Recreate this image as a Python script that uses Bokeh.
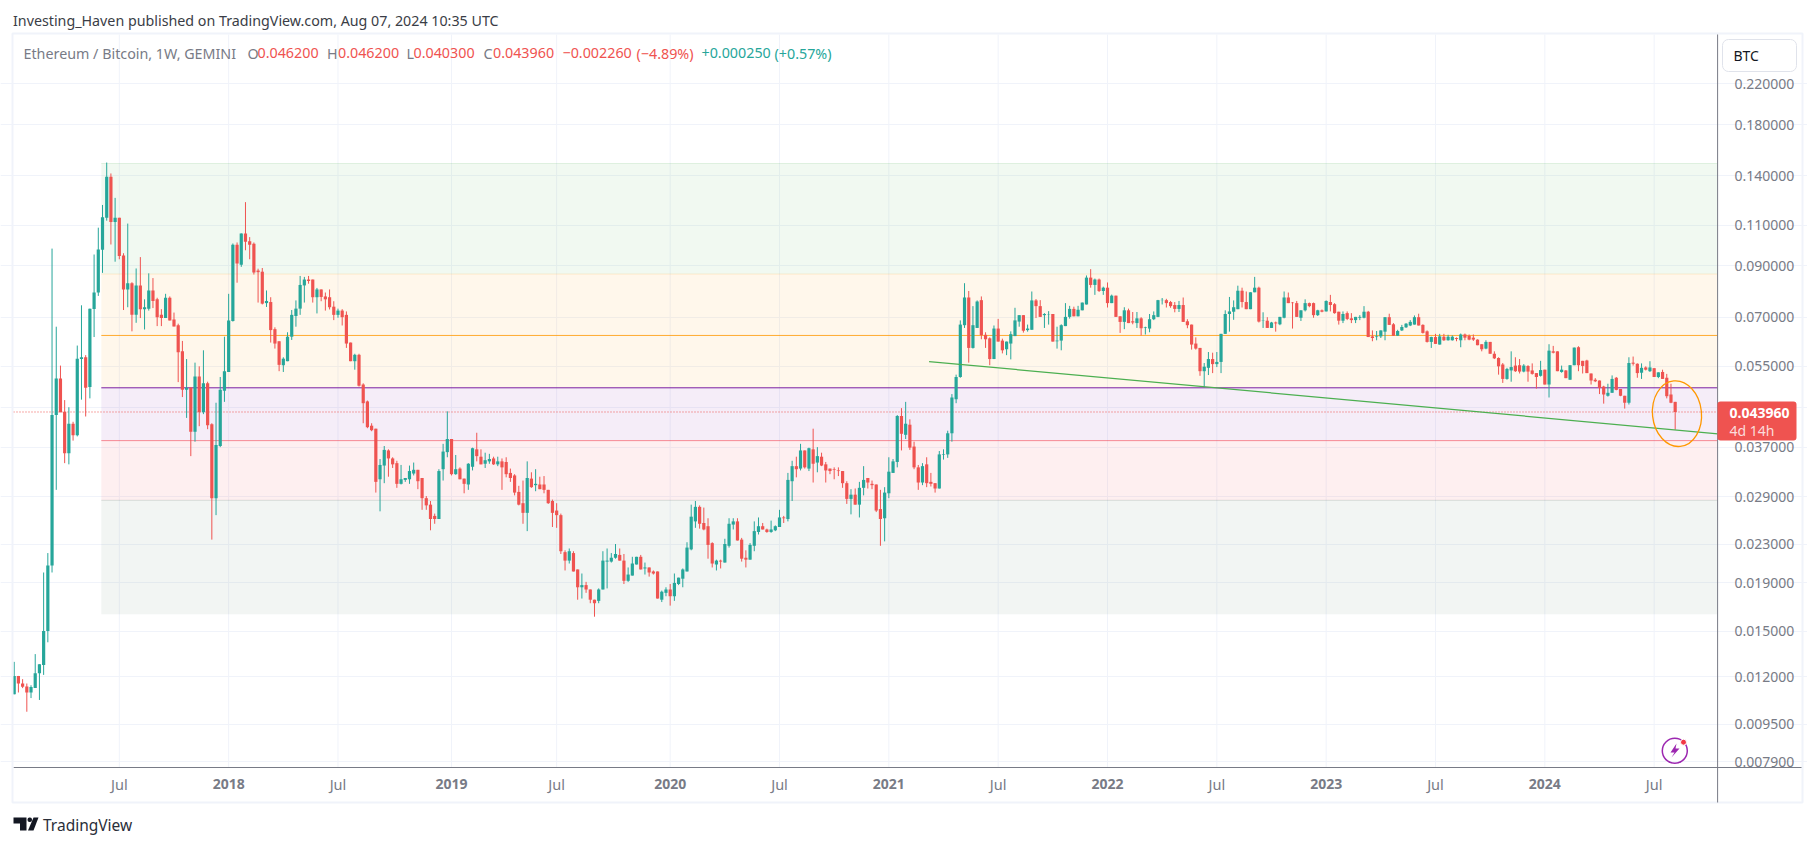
import numpy as np
import pandas as pd
from bokeh.plotting import figure
from bokeh.models import (Range1d, FixedTicker, CustomJSTickFormatter, Label, BoxAnnotation,
                          PolyAnnotation, ColumnDataSource, DatetimeAxis)
from bokeh.embed import file_html
from bokeh.resources import INLINE

# Weekly ETH/BTC candles, prices in units of 0.0001 BTC
opens = [110,120.4,116,114.3,111,113.5,122,127,150,207,
433,518,440,359,415,392,570,575,497,729,
790,974,1140,1394,1116,1140,947,802,827,708,
818,728,730,798,764,708,697,770,692,673,
592,490,495,399,523,439,506,414,288,372,
488,535,687,999,905,1056,1016,1004,880,875,
750,754,660,622,553,564,636,704,730,818,
842,842,772,802,775,772,737,708,723,708,
618,564,582,503,463,411,405,316,338,364,
350,342,309,315,316,325,331,318,288,279,
264,260,332,361,385,324,333,317,308,336,
366,353,341,345,350,340,345,344,326,322,
297,281,268,317,307,308,308,300,284,271,
265,221,212,220,203,186,188,184,175,174,
184,211,211,215,218,212,192,197,208,216,
204,205,201,201,175,181,184,178,189,194,
201,224,257,276,255,251,231,208,212,210,
228,253,257,235,215,213,228,244,251,247,
244,246,250,262,260,313,337,333,364,333,
366,343,353,340,333,332,330,329,310,287,
293,279,303,318,309,308,273,261,295,326,
344,431,393,413,371,335,311,340,312,310,
302,356,357,396,468,522,673,771,602,664,
761,642,631,570,662,624,598,615,638,685,
707,657,658,760,739,707,710,711,622,624,
670,701,729,703,724,745,850,820,842,796,
809,750,778,703,684,724,686,680,696,664,
662,693,701,761,761,754,743,729,743,686,
675,615,602,537,546,570,556,562,645,711,
719,728,797,754,728,791,809,687,688,664,
682,676,698,771,752,750,698,724,750,750,
707,724,720,754,746,719,688,714,696,690,
698,698,719,637,635,637,652,700,676,639,
656,666,672,675,700,674,653,620,635,612,
636,625,625,632,625,643,639,633,627,613,
600,620,585,573,555,517,539,552,553,536,
551,539,532,525,541,503,592,592,535,539,
515,553,604,565,566,531,515,513,498,476,
483,520,492,476,460,560,557,533,547,537,
545,522,535,520,479,462]
highs = [129,120.4,118.5,116,115,134,127.5,200,220,980,
668,552,466,450,419,609,742,581,730,952,
1086,1214,1495,1417,1257,1140,958,1108,831,889,
940,764,868,848,770,728,785,775,716,678,
623,570,497,560,550,595,510,416,460,522,
636,785,1005,1010,1056,1231,1037,1010,888,891,
798,772,666,622,575,650,725,760,857,853,
857,842,808,802,790,802,757,730,728,720,
618,585,585,506,465,416,405,349,372,366,
352,346,339,318,338,343,331,318,291,284,
267,332,376,441,385,356,335,317,342,369,
397,366,360,358,353,353,350,352,333,324,
306,314,345,327,332,320,321,300,286,281,
267,223,225,222,203,199,191,184,175,185,
222,225,220,230,225,219,205,216,216,218,
210,205,202,201,183,186,189,199,195,204,
232,279,284,278,275,261,232,213,213,236,
261,261,261,237,223,231,257,262,255,248,
258,252,272,264,326,346,353,376,364,369,
405,370,360,344,333,335,335,329,313,301,
302,312,337,318,314,308,300,304,352,349,
433,448,462,424,380,339,342,352,326,310,
363,366,401,480,528,689,827,796,739,760,
775,650,634,672,694,630,621,653,733,707,
707,675,794,765,761,714,721,711,668,676,
750,740,737,740,752,859,886,846,846,813,
830,782,778,703,735,730,718,718,700,668,
711,720,762,769,766,758,754,758,771,693,
675,634,602,559,590,588,590,645,724,773,
760,817,809,794,791,853,813,717,700,684,
685,701,794,790,754,758,724,764,752,752,
726,727,760,781,750,719,720,720,714,701,
707,739,722,656,654,656,700,712,680,658,
674,680,690,706,712,676,656,636,645,645,
645,642,640,634,646,646,643,643,628,613,
625,620,592,575,559,546,592,575,570,556,
553,558,532,565,541,613,608,592,552,540,
553,603,607,565,568,531,519,513,500,505,
526,522,492,476,575,577,558,558,550,564,
545,534,541,530,505,462]
lows = [110,111,113.4,101,108,113.5,107,121,142,200,
300,439,342,340,382,390,467,430,470,635,
777,870,1124,1000,919,930,725,735,653,681,
697,659,723,732,670,670,697,689,669,509,
473,427,354,380,410,435,404,235,265,370,
462,535,685,829,896,972,930,863,752,745,
736,618,600,537,535,564,626,668,708,752,
825,752,713,757,723,727,690,698,672,602,
564,541,498,416,406,400,296,270,310,320,
334,303,308,312,309,322,301,272,272,246,
254,260,314,352,322,323,316,295,300,330,
345,340,334,341,339,337,300,319,312,292,
278,254,245,303,298,301,295,280,250,249,
219,202,209,201,175,176,181,172,161,172,
184,185,210,214,212,189,191,197,208,203,
198,196,198,176,173,178,170,174,188,186,
201,223,249,248,246,214,205,202,204,210,
226,247,234,211,205,213,222,241,247,243,
243,245,250,255,257,284,319,330,333,329,
311,327,337,311,324,316,321,303,280,266,
279,262,292,302,301,269,228,233,288,326,
335,364,385,365,332,300,307,304,305,296,
302,348,351,380,459,520,664,560,600,664,
628,602,553,570,621,586,581,569,638,668,
649,652,658,697,701,664,675,621,600,595,
670,695,703,703,724,745,809,781,792,781,
734,750,701,648,660,680,676,664,640,643,
650,690,700,745,734,733,717,718,684,663,
597,597,525,496,527,532,548,532,645,652,
691,728,734,728,728,791,682,664,664,664,
652,673,696,750,662,701,687,720,735,698,
704,717,720,720,712,675,680,690,680,680,
690,696,635,622,625,632,625,674,639,639,
654,664,670,675,672,646,618,602,614,612,
623,624,624,622,604,625,625,623,610,592,
598,585,570,528,507,515,510,535,531,534,
510,528,493,523,503,472,586,537,533,519,
515,553,537,531,532,503,509,480,458,474,
483,489,475,447,456,552,520,517,539,535,
522,519,517,470,459,403]
closes = [120.4,116,114.2,111,114,122,127.5,150,207,433,
518,439,359,415,392,571,575,495,730,790,
976,1143,1394,1116,1140,945,802,827,708,818,
728,735,798,758,700,697,770,689,669,589,
490,495,399,523,439,506,412,288,374,490,
537,689,999,911,1056,1013,999,872,873,748,
758,657,615,554,571,636,708,730,820,842,
836,772,802,773,764,735,708,723,700,615,
564,582,500,459,408,402,312,339,365,350,
340,309,316,318,329,331,313,288,278,260,
260,329,362,385,324,332,316,309,341,368,
354,340,347,349,340,345,335,324,318,296,
279,268,318,304,309,301,300,281,268,265,
222,212,222,201,186,188,184,175,172,184,
212,212,215,219,212,192,198,209,216,203,
205,200,199,176,182,184,178,190,195,203,
226,263,276,254,247,229,209,212,211,230,
254,257,234,214,213,229,245,251,247,244,
247,251,262,261,315,337,332,364,335,368,
341,354,338,330,329,331,329,310,287,293,
279,303,315,311,307,271,260,296,328,345,
431,395,415,369,335,311,337,310,309,302,
357,357,396,472,522,675,771,602,673,756,
641,628,570,662,621,595,621,644,689,707,
655,662,760,739,701,711,711,621,624,673,
701,729,703,726,752,850,820,842,796,809,
750,778,701,684,724,680,682,696,663,666,
693,707,761,762,750,739,729,743,684,673,
612,600,537,549,570,556,562,645,711,720,
735,797,754,728,791,809,685,688,664,682,
679,701,771,750,750,701,724,750,739,707,
724,719,758,743,714,688,711,694,690,701,
701,719,635,632,637,656,700,674,639,654,
667,678,684,700,672,648,620,635,614,637,
625,636,636,629,643,633,627,627,610,598,
620,585,572,550,517,543,548,537,536,552,
536,530,522,540,503,594,588,537,541,519,
553,603,553,551,532,513,511,495,479,483,
517,490,476,460,559,557,532,546,541,547,
522,534,517,475,460,439.6]

first_week = "2017-01-09"
price_ticks = [0.22, 0.18, 0.14, 0.11, 0.09, 0.07, 0.055, 0.045, 0.037, 0.029, 0.023, 0.019, 0.015, 0.012, 0.0095, 0.0079]
hidden_tick = 0.045
last_price = 0.04396
jul_labels = ["2017-07-03", "2018-07-02", "2019-07-01", "2020-07-06", "2021-07-05", "2022-07-04", "2023-07-03", "2024-07-01"]
year_labels = ["2018-01-01", "2019-01-07", "2020-01-06", "2021-01-04", "2022-01-03", "2023-01-02", "2024-01-01"]
band_levels = [0.1488, 0.0865, 0.0495, 0.0382, 0.0285, 0.0163]
band_colors = ["#4caf50", "#ff9800", "#7b1fa2", "#f23645", "#5d7a6c"]
band_line_colors = ["#4caf50", "#ff9800", "#7b1fa2", "#f23645", "#5d7a6c", "#5d7a6c"]
band_line_alphas = [0.15, 0.15, 1.0, 0.55, 0.2, 0.0]
mid_level = 0.0640
trend_dates = ["2021-03-12", "2024-10-15"]
trend_prices = [0.0563, 0.0395]

FONT = "Noto Sans"
GREY = "#787b86"
RED = "#ef5350"
GREEN = "#26a69a"
GRID = "#f0f3fa"
W, H = 1807, 838

def ms(d):
    return pd.Timestamp(d).value / 1e6

week = 7 * 86400000.0
dates = pd.date_range(first_week, periods=len(closes), freq="7D")
x = np.array([d.value / 1e6 for d in dates])

# the frame fills the whole canvas: scale calibration from page pixels
def X(px):
    return x[0] + (px - 13.7) / 4.205 * week

def Y(py):
    return 0.22 * np.exp(-(py - 83.3) / 203.8)

o, h, l, c = [np.array(a, dtype=float) / 1e4 for a in (opens, highs, lows, closes)]
colors = np.where(c >= o, GREEN, RED).tolist()

x0, x1 = X(13), X(1717)
y_bot, y_top = Y(767), Y(34)
band_start = ms("2017-06-03")

p = figure(width=W, height=H, min_border=0, x_axis_type="datetime", y_axis_type="log",
           x_range=Range1d(X(0), X(W)), y_range=Range1d(Y(H), Y(0)), y_axis_location="right",
           output_backend="svg", toolbar_location=None, outline_line_color=None,
           background_fill_color="white", border_fill_color="white")

# axes and grid
p.yaxis.ticker = FixedTicker(ticks=price_ticks)
p.yaxis.formatter = CustomJSTickFormatter(args=dict(hide=hidden_tick),
    code="return Math.abs(tick - hide) < 1e-9 ? '' : tick.toFixed(6)")
p.xaxis.ticker = FixedTicker(ticks=[ms(d) for d in jul_labels])
p.xaxis.formatter = CustomJSTickFormatter(code="return 'Jul'")
year_axis = DatetimeAxis(ticker=FixedTicker(ticks=[ms(d) for d in year_labels]),
                         formatter=CustomJSTickFormatter(code="return String(new Date(tick).getUTCFullYear())"))
p.add_layout(year_axis, "below")
p.xaxis[0].fixed_location = y_bot
p.xaxis[1].fixed_location = y_bot
p.yaxis[0].fixed_location = x1
p.xaxis[0].bounds = (x0, X(1802))
p.xaxis[1].bounds = (x0, X(1802))
p.yaxis[0].bounds = (y_bot, y_top)
for ax in (p.xaxis[0], p.xaxis[1], p.yaxis[0]):
    ax.axis_line_color = GREY
    ax.major_tick_line_color = None
    ax.minor_tick_line_color = None
    ax.major_label_text_color = GREY
    ax.major_label_text_font = FONT
    ax.major_label_text_font_size = "14px"
p.xaxis[0].major_label_text_font_size = "14.5px"
p.xaxis[1].major_label_text_font_style = "bold"
p.xaxis[1].axis_line_color = None
p.yaxis[0].axis_line_color = None
p.yaxis.major_label_standoff = 11
p.xaxis[0].major_label_standoff = 0
p.xaxis[1].major_label_standoff = 5
p.xgrid.visible = False
p.ygrid.grid_line_color = GRID
p.ygrid.bounds = (x0, x1)
time_grid = [ms(d) for d in jul_labels] + [ms(d) for d in year_labels]
p.segment(x0=time_grid, x1=time_grid, y0=y_bot, y1=y_top, line_color=GRID, line_width=1, level="underlay")

# fib bands
for i, col in enumerate(band_colors):
    p.quad(left=band_start, right=x1, top=band_levels[i], bottom=band_levels[i + 1],
           fill_color=col, fill_alpha=0.08, line_color=None)
for lvl, col, a in zip(band_levels, band_line_colors, band_line_alphas):
    if a > 0:
        p.line([band_start, x1], [lvl, lvl], line_color=col, line_alpha=a, line_width=1)
p.line([band_start, x1], [mid_level, mid_level], line_color="#ff9800", line_alpha=0.8, line_width=1)

# last-price dotted line
p.line([x0, x1], [last_price, last_price], line_color=RED, line_width=1, line_dash="1 2")

# candles
src = ColumnDataSource(dict(x=x, h=h, l=l, top=np.maximum(o, c), bottom=np.minimum(o, c), color=colors))
p.segment(x0="x", x1="x", y0="l", y1="h", line_color="color", line_width=1, source=src)
p.vbar(x="x", width=week * 3.2 / 4.205, top="top", bottom="bottom", fill_color="color", line_color=None, source=src)

# drawn trend line and ellipse
p.line([ms(d) for d in trend_dates], trend_prices, line_color="#4caf50", line_width=1.2)
p.ellipse(x=[ms("2024-08-08")], y=[0.0436], width=[49], height=[66], width_units="screen", height_units="screen",
          angle=[0.1], fill_color=None, line_color="#ff9800", line_width=1.3)

# --- page furniture, in page pixels ---
def text(px, py, s, color=GREY, size=14.3, bold=False, font=FONT, align="left"):
    p.add_layout(Label(x=px, y=py, x_units="canvas", y_units="canvas", text=s, text_color=color,
                       text_font=font, text_font_size=f"{size}px", text_baseline="middle", text_align=align,
                       text_font_style="bold" if bold else "normal"))

def box(l_, r_, t_, b_, fill=None, line=None, lw=1, radius=0):
    p.add_layout(BoxAnnotation(left=l_, right=r_, top=t_, bottom=b_,
                               left_units="canvas", right_units="canvas", top_units="canvas", bottom_units="canvas",
                               fill_color=fill, fill_alpha=1 if fill else 0, line_color=line, line_width=lw,
                               line_alpha=1 if line else 0, border_radius=radius, level="annotation"))

def poly(xs, ys, color):
    p.add_layout(PolyAnnotation(xs=xs, ys=ys, xs_units="canvas", ys_units="canvas",
                                fill_color=color, fill_alpha=1, line_color=None))

box(12, 1802, 33, 802, line=GRID, lw=2)
box(1716.6, 1717.6, 34, 802, fill=GREY)

text(12.5, 19.5, "Investing_Haven published on TradingView.com, Aug 07, 2024 10:35 UTC", color="#3a3d46", size=14.27)
text(23, 52.5, "Ethereum / Bitcoin, 1W, GEMINI")
for px, s, col in [(247, "O", GREY), (257, "0.046200", RED), (326.5, "H", GREY), (337.5, "0.046200", RED),
                   (406, "L", GREY), (413, "0.040300", RED), (483, "C", GREY), (492.5, "0.043960", RED),
                   (562, "\u22120.002260", RED), (636, "(\u22124.89%)", RED),
                   (701, "+0.000250", GREEN), (774, "(+0.57%)", GREEN)]:
    text(px, 52.5, s, color=col)

box(1722, 1796, 39, 71, fill="white", line="#e0e3eb", radius=6)
text(1733, 55, "BTC", color="#131722", size=14)

box(1717, 1796, 401, 440, fill=RED, radius=3)
text(1729, 412, "0.043960", color="white", size=14, bold=True)
text(1729, 430, "4d 14h", color="#fbdcdb", size=14)

# zap icon
p.scatter(x=[X(1674.3)], y=[Y(750.3)], size=25, marker="circle", fill_color=None, line_color="#9c27b0", line_width=1.5)
p.scatter(x=[X(1683)], y=[Y(741.7)], size=6, marker="circle", fill_color="#f23645", line_color="white")
poly([1676, 1670, 1674, 1671, 1679, 1675], [743, 752, 752, 757, 748, 748], "#9c27b0")

# TradingView logo
poly([13, 26, 26, 19.5, 19.5, 13], [817, 817, 830, 830, 823, 823], "#131722")
poly([33, 38, 33, 27.5], [817, 817, 830, 830], "#131722")
box(27, 31.5, 817, 821.5, fill="#131722", radius=2)
text(42.5, 824, "TradingView", color="#2a2e39", size=15.5)

open("out.html", "w").write(file_html(p, INLINE))
